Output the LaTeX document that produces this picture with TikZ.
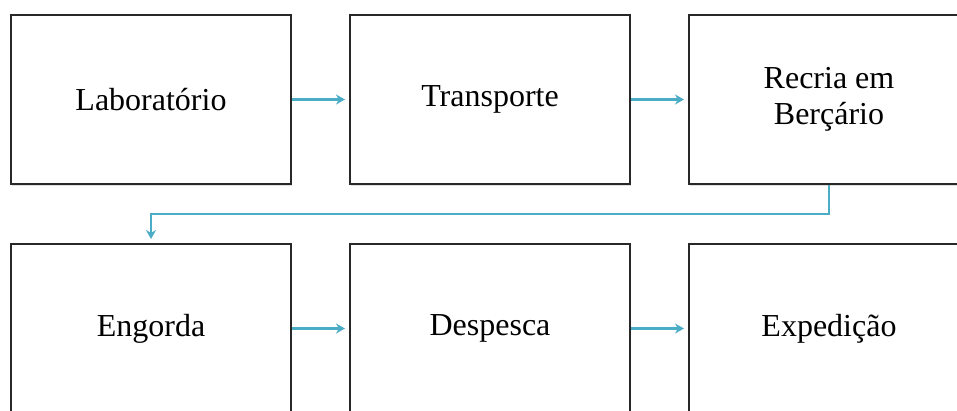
\documentclass[tikz,border=0pt]{standalone}
\usepackage{fontspec}
\setmainfont{Liberation Serif}
\usetikzlibrary{arrows.meta,shadows,calc}
\definecolor{arrowblue}{RGB}{75,172,198}
\definecolor{boxline}{RGB}{40,40,40}
\begin{document}
\begin{tikzpicture}[x=1pt,y=-1pt,
  stepbox/.style={draw=boxline,line width=2pt,fill=white,minimum width=280pt,minimum height=169pt,inner sep=0pt,align=center,font=\fontsize{32}{36}\selectfont,
    drop shadow={opacity=0.25,shadow xshift=1pt,shadow yshift=-2pt}},
  flow/.style={draw=arrowblue,line width=2.4pt,-{Stealth[length=9pt,width=10pt]},shorten >=4pt}]
\useasboundingbox (0,0) rectangle (957,410);
\clip (0,0) rectangle (957,410);
\fill[white] (0,0) rectangle (957,410);
\node[stepbox] (lab) at (151,99.5) {Laboratório};
\node[stepbox] (tra) at (490,99.5) {Transporte};
\node[stepbox] (rec) at (829,99.5) {Recria em\\Berçário};
\node[stepbox] (eng) at (151,328.5) {Engorda};
\node[stepbox] (des) at (490,328.5) {Despesca};
\node[stepbox] (exp) at (829,328.5) {Expedição};
\draw[flow] (lab) -- (tra);
\draw[flow] (tra) -- (rec);
\draw[flow] (eng) -- (des);
\draw[flow] (des) -- (exp);
\coordinate (bend) at (829,214);
\draw[flow] (rec.south) -- (bend) -| (eng.north);
\end{tikzpicture}
\end{document}
